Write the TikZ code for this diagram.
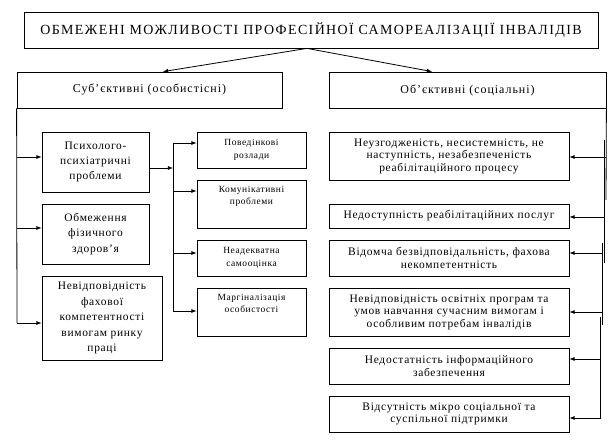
\documentclass[tikz,border=0pt]{standalone}
\usepackage{fontspec}
\setmainfont{Liberation Serif}[LetterSpace=6]
\tikzset{
  box/.style={draw,align=center,inner sep=1pt},
  sz/.style 2 args={minimum width=#1bp,minimum height=#2bp},
  head/.style={box,font=\fontsize{12}{14}\selectfont\addfontfeature{LetterSpace=8}},
  big/.style={box,font=\fontsize{11.5}{15.5}\selectfont},
  small/.style={box,font=\fontsize{9.5}{12.5}\selectfont},
  soc/.style={box,font=\fontsize{11.5}{12.5}\selectfont,minimum width=240bp},
}
\begin{document}
\begin{tikzpicture}[x=1bp,y=-1bp,line width=0.8bp]
  \useasboundingbox (0,0) rectangle (613,445);

  \node[box,font=\fontsize{14}{15}\selectfont\addfontfeature{LetterSpace=10},sz={574}{36}] (top) at (311,30) {ОБМЕЖЕНІ МОЖЛИВОСТІ ПРОФЕСІЙНОЇ САМОРЕАЛІЗАЦІЇ ІНВАЛІДІВ};
  \node[head,sz={265}{36}] (sub) at (149.5,90) {Суб’єктивні (особистісні)};
  \node[head,sz={277}{36}] (obj) at (467.5,90) {Об’єктивні (соціальні)};

  % subjective side
  \node[big,sz={107}{60}] (psy) at (95.5,162) {Психолого-\\психіатричні\\проблеми};
  \node[big,sz={107}{60}] (fiz) at (95.5,234) {Обмеження\\фізичного\\здоров’я};
  \node[big,sz={120}{84}] (fah) at (102,318) {Невідповідність\\фахової\\компетентності\\вимогам ринку\\праці};

  \node[small,sz={109}{36}] (pov) at (251.5,150) {Поведінкові\\розлади};
  \node[small,sz={109}{48}] (kom) at (251.5,204) {};
  \node[small,draw=none,anchor=north] (komt) at ([yshift=-5bp]kom.north) {Комунікативні\\проблеми};
  \node[small,sz={109}{36}] (nea) at (251.5,258) {Неадекватна\\самооцінка};
  \node[small,sz={109}{48}] (mar) at (251.5,312) {};
  \node[small,draw=none,anchor=north] (mart) at ([yshift=-5bp]mar.north) {Маргіналізація\\особистості};

  % objective side
  \node[soc,minimum height=48bp] (neu) at (449,156) {Неузгодженість, несистемність, не\\наступність, незабезпеченість\\реабілітаційного процесу};
  \node[soc,minimum height=24bp] (ned) at (449,216) {Недоступність реабілітаційних послуг};
  \node[soc,minimum height=36bp] (vid) at (449,258) {Відомча безвідповідальність, фахова\\некомпетентність};
  \node[soc,minimum height=48bp] (osv) at (449,312) {Невідповідність освітніх програм та\\умов навчання сучасним вимогам і\\особливим потребам інвалідів};
  \node[soc,minimum height=36bp] (inf) at (449,366) {Недостатність інформаційного\\забезпечення};
  \node[soc,minimum height=36bp] (pid) at (449,414) {Відсутність мікро соціальної та\\суспільної підтримки};

  \draw[-latex] (307,0 |- top.south) -- (163,0 |- sub.north);
  \draw[-latex] (307,0 |- top.south) -- (432,0 |- obj.north);

  \draw (sub.south west) -- (17,323);
  \foreach \n/\y in {psy/157,fiz/228,fah/323}
    \draw[-latex] (17,\y) -- (\n.west |- 0,\y);
  \draw[-latex] (psy.east |- 0,168) -- (173,168);
  \draw (173,143) -- (173,311);
  \foreach \n/\y in {pov/143,kom/191,nea/253,mar/311}
    \draw[-latex] (173,\y) -- (\n.west |- 0,\y);

  \draw (obj.south east) -- (606,200);
  \draw (604,140) -- (604,263);
  \draw (602,243) -- (602,325);
  \draw (600,317) -- (600,419);
  \foreach \n/\x/\y in {neu/606/157,ned/604/217,vid/602/253,osv/602/312,inf/600/359,pid/600/418}
    \draw[-latex] (\x,\y) -- (\n.east |- 0,\y);
\end{tikzpicture}
\end{document}
